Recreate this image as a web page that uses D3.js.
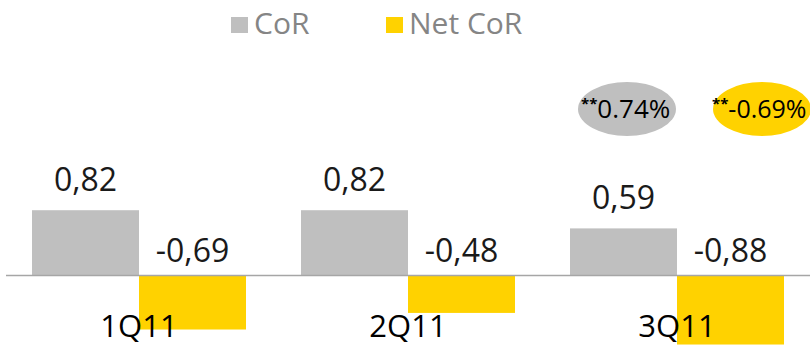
<!DOCTYPE html>
<html>
<head>
<meta charset="utf-8">
<script src="https://cdn.jsdelivr.net/npm/d3@7"></script>
<style>
  html, body { margin: 0; padding: 0; background: #fff; }
  svg { display: block; }
</style>
</head>
<body>
<svg id="chart" width="810" height="345"></svg>
<script>
// Quarterly cost of risk, gross vs net
const quarters = ["1Q11", "2Q11", "3Q11"];
const seriesNames = ["CoR", "Net CoR"];
const corValues = [0.82, 0.82, 0.59];
const netCorValues = [-0.69, -0.48, -0.88];
const summaryLabels = ["0.74%", "-0.69%"];
const seriesColors = ["#BFBFBF", "#FFD200"];

const svg = d3.select("#chart");
const W = 810, H = 345;
const baseY = 275;

const x0 = d3.scaleBand().domain(quarters).range([4.5, 811.5]).paddingInner(0);
const x1 = d3.scaleBand().domain(seriesNames).range([0, x0.bandwidth()]).paddingInner(0).paddingOuter(0.257);
const y = d3.scaleLinear().domain([0, 1]).range([baseY, baseY - 79]);

const color = d3.scaleOrdinal().domain(seriesNames).range(seriesColors);
// Decimal comma and a plain hyphen for negatives
const fmt = v => d3.format(".2f")(v).replace(".", ",").replace("\u2212", "-");

const rows = quarters.map((q, i) => ({
  q,
  vals: [
    { s: seriesNames[0], v: corValues[i] },
    { s: seriesNames[1], v: netCorValues[i] }
  ]
}));

const font = "'Open Sans', 'Noto Sans', sans-serif";

// Bars
const groups = svg.append("g").selectAll("g").data(rows).join("g")
  .attr("transform", d => `translate(${x0(d.q)},0)`);

groups.selectAll("rect").data(d => d.vals).join("rect")
  .attr("x", d => x1(d.s))
  .attr("width", x1.bandwidth())
  .attr("y", d => Math.min(y(d.v), y(0)))
  .attr("height", d => Math.abs(y(d.v) - y(0)))
  .attr("fill", d => color(d.s));

// Zero line
svg.append("line")
  .attr("x1", 6).attr("x2", W)
  .attr("y1", y(0) + 0.5).attr("y2", y(0) + 0.5)
  .attr("stroke", "#A6A6A6").attr("stroke-width", 1.5);

// Value labels: positive above the bar, negative above the zero line
groups.selectAll("text.val").data(d => d.vals).join("text")
  .attr("class", "val")
  .attr("x", d => x1(d.s) + x1.bandwidth() / 2)
  .attr("y", d => d.v >= 0 ? y(d.v) - 19 : y(0) - 13)
  .attr("text-anchor", "middle")
  .attr("font-family", font)
  .attr("font-size", 32)
  .attr("fill", "#1a1a1a")
  .text(d => fmt(d.v));

// Category labels
svg.append("g").selectAll("text").data(quarters).join("text")
  .attr("x", d => x0(d) + x0.bandwidth() / 2)
  .attr("y", 337)
  .attr("text-anchor", "middle")
  .attr("font-family", font)
  .attr("font-size", 31)
  .attr("fill", "#000")
  .text(d => d);

// Legend
const legendX = [231, 386];
const legend = svg.append("g").selectAll("g").data(seriesNames).join("g")
  .attr("transform", (d, i) => `translate(${legendX[i]},17)`);
legend.append("rect")
  .attr("width", 17).attr("height", 16)
  .attr("fill", d => color(d));
legend.append("text")
  .attr("x", 23).attr("y", 17)
  .attr("font-family", font)
  .attr("font-size", 30)
  .attr("fill", "#858585")
  .text(d => d);

// Year-to-date summary bubbles
const bubbleX = [627, 762];
const bubbles = svg.append("g").selectAll("g").data(summaryLabels).join("g")
  .attr("transform", (d, i) => `translate(${bubbleX[i]},109)`);
bubbles.append("ellipse")
  .attr("rx", 49).attr("ry", 27)
  .attr("fill", (d, i) => seriesColors[i]);
const bt = bubbles.append("text")
  .attr("x", (d, i) => i === 0 ? -46 : -50)
  .attr("y", 9)
  .attr("font-family", font)
  .attr("font-size", (d, i) => i === 0 ? 26 : 25)
  .attr("fill", "#000");
bt.append("tspan")
  .attr("font-size", 15)
  .attr("font-weight", "bold")
  .attr("dy", -9)
  .text("**");
bt.append("tspan")
  .attr("dy", 9)
  .text(d => d);
</script>
</body>
</html>
